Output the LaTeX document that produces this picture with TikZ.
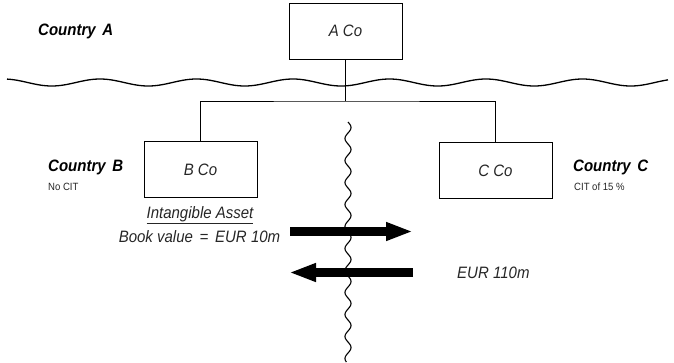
\documentclass[tikz,border=0pt]{standalone}
\usepackage{fontspec}
\setmainfont{Liberation Sans}
\usetikzlibrary{arrows.meta}
\newcommand\narrowtext[1]{\scalebox{0.91}[1]{#1}}
\begin{document}
\begin{tikzpicture}[x=1pt,y=-1pt,
  cobox/.style={draw, line width=1pt, minimum width=113pt, minimum height=56pt, inner sep=0pt, font=\fontsize{16.5}{19}\selectfont\itshape, text=black!85},
  country/.style={anchor=west, inner sep=0pt, font=\fontsize{16.5}{19}\selectfont\bfseries\itshape},
  small/.style={anchor=west, inner sep=0pt, font=\fontsize{10.5}{12}\selectfont, text=black!85},
  lbl/.style={inner sep=0pt, font=\fontsize{16.5}{19}\selectfont\itshape, text=black!85},
  link/.style={line width=1pt},
  wave/.style={line width=1.3pt},
  bigarrow/.style={line width=9pt, -{Triangle[length=27pt,width=17pt]}}]
\useasboundingbox (0,0) rectangle (674,362);
% boxes
\node[cobox] (A) at (345.5,31) {\narrowtext{A Co}};
\node[cobox] (B) at (200.5,169.5) {\narrowtext{B Co}};
\node[cobox] (C) at (495.5,170.5) {\narrowtext{C Co}};
% country labels
\node[country] (cA) at (38,31) {\narrowtext{Country\, A}};
\node[country] (cB) at (48,167) {\narrowtext{Country\, B}};
\node[small] (tB) at (48,187) {\narrowtext{No CIT}};
\node[country] (cC) at (573,167) {\narrowtext{Country\, C}};
\node[small] (tC) at (574,187) {\narrowtext{CIT of 15 \%}};
% borders
\draw[wave] plot[domain=7:668, samples=300] (\x, {82.5-3.5*cos((\x-100)/96.5*360)});
\draw[wave, line width=1.1pt] plot[domain=122:362, samples=400] ({348+3*sin((\x-122)/22*360)}, \x);
% tree
\coordinate (j) at (345.5,101);
\draw[link] (A.south) -- (j);
\draw[link] (B.north) |- (j) -| (C.north);
% texts
\node[lbl] (ia) at (200,215) {\narrowtext{\underline{Intangible Asset}}};
\node[lbl] (bv) at (199.5,237) {\narrowtext{Book value \,=\, EUR 10m}};
\node[lbl, anchor=west] (eur) at (457,273) {\narrowtext{EUR 110m}};
% arrows
\coordinate (r1) at (290,231.5);
\coordinate (r2) at (413,231.5);
\coordinate (l1) at (413,272.5);
\coordinate (l2) at (289,272.5);
\draw[bigarrow] (r1) -- (r2);
\draw[bigarrow] (l1) -- (l2);
\end{tikzpicture}
\end{document}
